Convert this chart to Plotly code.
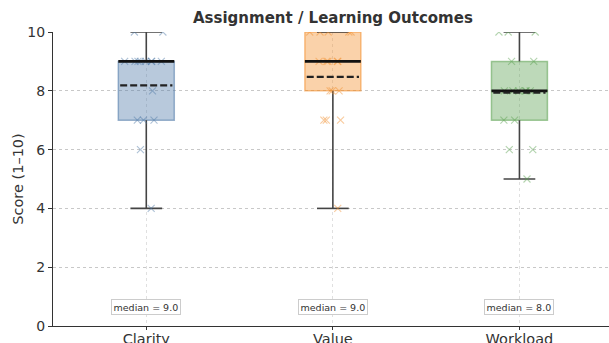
import numpy as np
import plotly.graph_objects as go

# Survey responses per question (scores 1-10)
categories = ["Clarity", "Value", "Workload"]
clarity_scores = [10, 10, 9, 9, 9, 9, 9, 9, 9, 9, 8, 7, 7, 7, 6, 4]
value_scores = [10, 10, 10, 10, 10, 9, 9, 9, 9, 9, 8, 8, 8, 7, 7, 7, 4]
workload_scores = [10, 10, 10, 9, 9, 8, 8, 8, 8, 8, 8, 7, 7, 6, 6, 5]
y_ticks = [0, 2, 4, 6, 8, 10]

series = [clarity_scores, value_scores, workload_scores]
colors = ["#4E79A7", "#F28E2B", "#59A14F"]
fills = ["rgba(78,121,167,0.4)", "rgba(242,142,43,0.4)", "rgba(89,161,79,0.4)"]
edges = ["rgba(78,121,167,0.55)", "rgba(242,142,43,0.55)", "rgba(89,161,79,0.55)"]

FONT = "DejaVu Sans"
half = 0.15
cap = 0.085

fig = go.Figure()
shapes = []
annotations = []

for i, (name, vals) in enumerate(zip(categories, series)):
    arr = np.array(vals, dtype=float)
    q1, med, q3 = np.percentile(arr, [25, 50, 75])
    lo, hi = arr.min(), arr.max()
    mean = arr.mean()

    # box body
    shapes.append(dict(type="rect", xref="x", yref="y", x0=i - half, x1=i + half,
                       y0=q1, y1=q3, fillcolor=fills[i],
                       line=dict(color=edges[i], width=1.5), layer="between"))
    # whiskers and caps
    for a, b in [(lo, q1), (q3, hi)]:
        shapes.append(dict(type="line", xref="x", yref="y", x0=i, x1=i, y0=a, y1=b,
                           line=dict(color="#444444", width=1.6), layer="between"))
    for v in (lo, hi):
        shapes.append(dict(type="line", xref="x", yref="y", x0=i - cap, x1=i + cap,
                           y0=v, y1=v, line=dict(color="#444444", width=1.6),
                           layer="between"))
    # median (solid) and mean (dashed)
    shapes.append(dict(type="line", xref="x", yref="y", x0=i - half, x1=i + half,
                       y0=med, y1=med, line=dict(color="#111111", width=2.8),
                       layer="above"))
    shapes.append(dict(type="line", xref="x", yref="y", x0=i - half + 0.01,
                       x1=i + half - 0.01, y0=mean, y1=mean,
                       line=dict(color="#222222", width=2.2, dash="7px,3px"),
                       layer="above"))

    # jittered individual responses
    fig.add_trace(go.Box(
        x=[i] * len(vals), y=vals, name=name, width=0.3,
        boxpoints="all", jitter=0.9, pointpos=0,
        fillcolor="rgba(0,0,0,0)", line=dict(width=0, color="rgba(0,0,0,0)"),
        whiskerwidth=0,
        marker=dict(symbol="x-thin", size=7, opacity=0.45,
                    line=dict(width=1.1, color=colors[i]), color=colors[i]),
        showlegend=False, hoverinfo="y",
    ))

    annotations.append(dict(
        x=i, y=0.65, xref="x", yref="y", text=f"median = {med:.1f}",
        showarrow=False, font=dict(family=FONT, size=9.5, color="#333333"),
        bgcolor="white", bordercolor="#cccccc", borderwidth=1, borderpad=1.5,
    ))

annotations.append(dict(
    x=1, y=1.0, xref="x", yref="paper", yanchor="bottom", yshift=3,
    text="<b>Assignment / Learning Outcomes</b>", showarrow=False,
    font=dict(family=FONT, size=15, color="#333333"),
))

fig.update_layout(
    width=609, height=343,
    margin=dict(l=53, r=0, t=32, b=17),
    paper_bgcolor="white", plot_bgcolor="white",
    font=dict(family=FONT, color="#333333"),
    shapes=shapes, annotations=annotations,
    showlegend=False,
)
fig.update_xaxes(
    range=[-0.5, 2.48], tickmode="array", tickvals=[0, 1, 2], ticktext=categories,
    showline=True, linecolor="#333333", linewidth=1.2,
    ticks="outside", ticklen=3, tickcolor="#333333",
    tickfont=dict(family=FONT, size=14.5, color="#333333"),
    ticklabelstandoff=-4,
    showgrid=True, gridcolor="#e0e0e0", griddash="dot", gridwidth=1,
    zeroline=False, fixedrange=True, automargin=False,
)
fig.update_yaxes(
    range=[0, 10], tickmode="array", tickvals=y_ticks,
    showline=True, linecolor="#333333", linewidth=1.2,
    ticks="outside", ticklen=4, tickcolor="#333333",
    tickfont=dict(family=FONT, size=14, color="#333333"),
    title=dict(text="Score (1–10)", font=dict(family=FONT, size=14.5, color="#333333"),
               standoff=0),
    showgrid=True, gridcolor="#c8c8c8", griddash="dot", gridwidth=1,
    zeroline=False, fixedrange=True, automargin=False,
)

fig.write_html("out.html")
